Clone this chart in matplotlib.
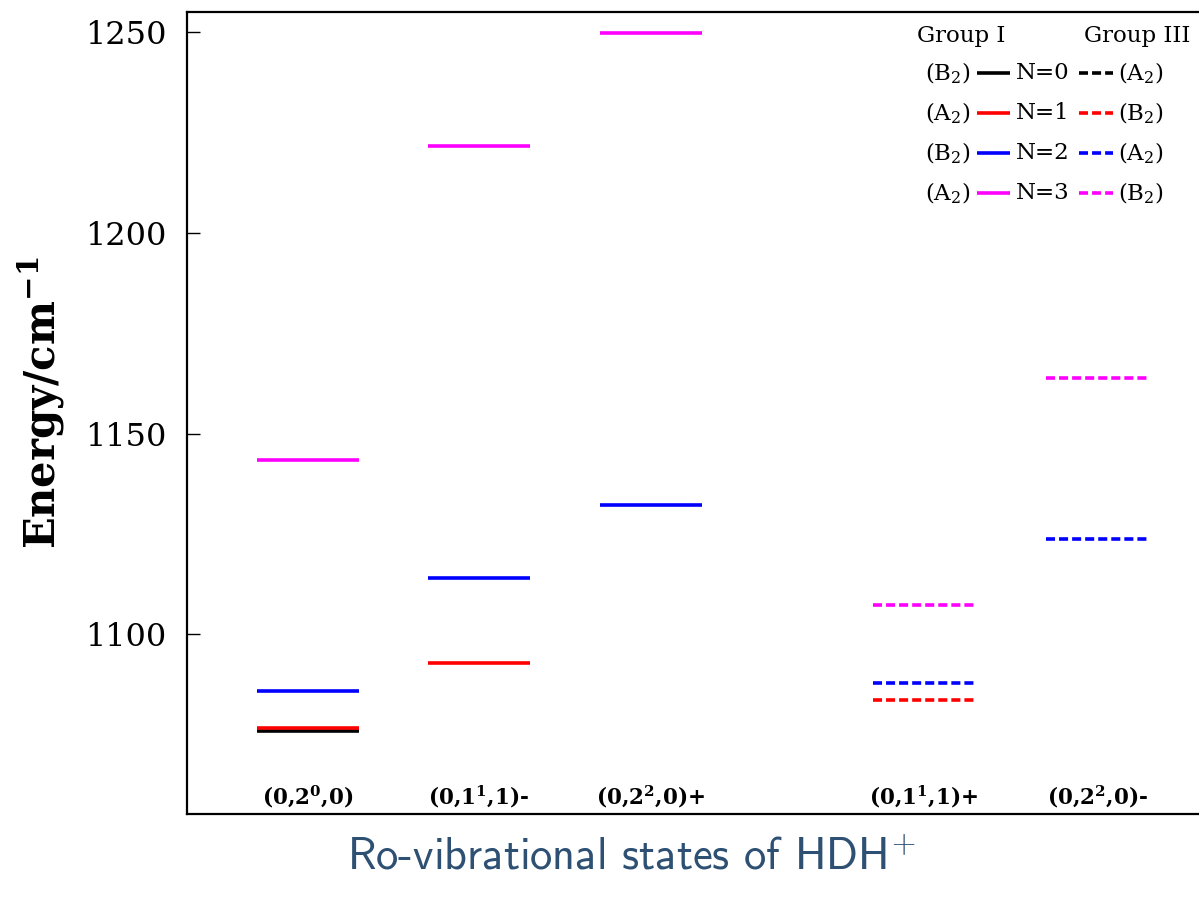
import matplotlib
matplotlib.use("Agg")
import matplotlib.pyplot as plt
from matplotlib.lines import Line2D

# ---------------- data ----------------
state_labels = [r"(0,2$^{\mathbf{0}}$,0)", r"(0,1$^{\mathbf{1}}$,1)-", r"(0,2$^{\mathbf{2}}$,0)+",
                r"(0,1$^{\mathbf{1}}$,1)+", r"(0,2$^{\mathbf{2}}$,0)-"]
state_group = ["I", "I", "I", "III", "III"]
N_levels = [0, 1, 2, 3]
energy_N0 = [1075.9, None, None, None, None]
energy_N1 = [1076.7, 1093.0, None, 1083.7, None]
energy_N2 = [1085.8, 1114.0, 1132.3, 1087.9, 1123.7]
energy_N3 = [1143.4, 1221.7, 1249.8, 1107.3, 1163.8]
yticks = [1100, 1150, 1200, 1250]
legend_sym_I = [r"(B$_2$)", r"(A$_2$)", r"(B$_2$)", r"(A$_2$)"]
legend_sym_III = [r"(A$_2$)", r"(B$_2$)", r"(A$_2$)", r"(B$_2$)"]

# ---------------- layout / style ----------------
plt.rcParams["font.family"] = ["DejaVu Serif"]
plt.rcParams["mathtext.fontset"] = "custom"
plt.rcParams["mathtext.rm"] = "DejaVu Serif"
plt.rcParams["mathtext.bf"] = "DejaVu Serif:bold"
plt.rcParams["lines.scale_dashes"] = False

W, H = 1199, 899
fig = plt.figure(figsize=(W / 100, H / 100), dpi=100)
ax_l, ax_r, ax_b, ax_t = 187, 1210, 813.5, 12
ax = fig.add_axes([ax_l / W, 1 - ax_b / H, (ax_r - ax_l) / W, (ax_b - ax_t) / H])

x_pos = [0.707, 1.713, 2.721, 4.323, 5.34]
half_w = 0.299
colors = ["black", "red", "blue", "magenta"]
lw = 2.6
dash = (0, (6.5, 2.9))

series = [energy_N0, energy_N1, energy_N2, energy_N3]
for n, vals, c in zip(N_levels, series, colors):
    for xi, e, g in zip(x_pos, vals, state_group):
        if e is None:
            continue
        ls = "-" if g == "I" else dash
        ax.plot([xi - half_w, xi + half_w], [e, e], color=c, lw=lw, ls=ls,
                solid_capstyle="butt", dash_capstyle="butt")

ax.set_xlim(0, 6)
ax.set_ylim(1055.4, 1255.0)
ax.set_xticks([])
ax.set_yticks(yticks)
ax.tick_params(axis="y", direction="in", length=9.5, width=1.0, pad=15, labelsize=23)
for s in ax.spines.values():
    s.set_linewidth(1.6)

for xl, lab in zip(x_pos, state_labels):
    ax.text(xl, 0.004, lab, transform=ax.get_xaxis_transform(), ha="center", va="bottom",
            fontsize=15.5, fontweight="bold")

ax.set_ylabel(r"Energy/cm$^{\mathbf{-1}}$", fontsize=30, fontweight="bold")
ax.yaxis.set_label_coords(-0.117, 0.513)

fig.text(631 / W, 1 - 869 / H, r"Ro-vibrational states of HDH$^{+}$", fontfamily="cmss10",
         math_fontfamily="cm", fontsize=32, color="#2d5073", ha="center", va="baseline")

# ---------------- legend (manual layout) ----------------
def fx(px):
    return px / W

def fy(py):
    return 1 - py / H

leg_fs = 16.5
fig.text(fx(961), fy(36), "Group I", fontsize=leg_fs, ha="center", va="center")
fig.text(fx(1137), fy(36), "Group III", fontsize=leg_fs, ha="center", va="center")
row_y = [73, 113, 153, 193]
for ry, n, c, s1, s3 in zip(row_y, N_levels, colors, legend_sym_I, legend_sym_III):
    fig.text(fx(971), fy(ry), s1, fontsize=leg_fs, ha="right", va="center")
    fig.add_artist(Line2D([fx(977), fx(1010)], [fy(ry), fy(ry)], color=c, lw=lw,
                          solid_capstyle="butt", transform=fig.transFigure))
    fig.text(fx(1016), fy(ry), f"N={n}", fontsize=leg_fs, ha="left", va="center")
    fig.add_artist(Line2D([fx(1079), fx(1113)], [fy(ry), fy(ry)], color=c, lw=lw, ls=dash,
                          dash_capstyle="butt", transform=fig.transFigure))
    fig.text(fx(1118), fy(ry), s3, fontsize=leg_fs, ha="left", va="center")

fig.savefig("out.png", dpi=100)
